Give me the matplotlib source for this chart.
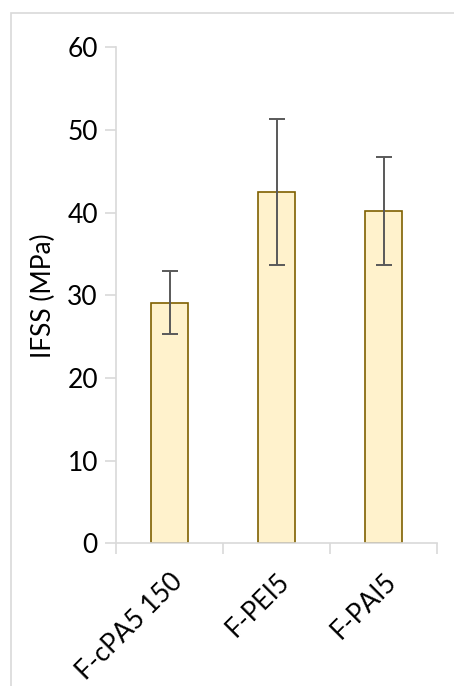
import matplotlib.pyplot as plt
import numpy as np
from matplotlib.patches import Rectangle

amostras = ['F-cPA5 150', 'F-PEI5', 'F-PAI5']
ifss = [29.1, 42.5, 40.2]
erro = [3.8, 8.8, 6.5]
ticks_y = [0, 10, 20, 30, 40, 50, 60]

plt.rcParams['font.family'] = ['Lato', 'DejaVu Sans']

fig = plt.figure(figsize=(4.54, 6.86), dpi=100)
ax = fig.add_axes([116/454, 1 - 543.4/686, 321/454, 496.2/686])

# moldura cinza clara do grafico (so esquerda e topo aparecem)
fig.patches.append(Rectangle((11/454, -0.1), 1.2, 1 - 13/686 + 0.1,
                             transform=fig.transFigure, fill=False,
                             edgecolor='#d9d9d9', linewidth=1.2))

x = np.arange(len(amostras))
ax.bar(x, ifss, width=0.34, color='#fff2cc', edgecolor='#7f6000', linewidth=1.2,
       yerr=erro, error_kw=dict(ecolor='#595959', elinewidth=1.4, capsize=6, capthick=1.4))

ax.set_xlim(-0.5, len(amostras) - 0.5)
ax.set_ylim(0, 60)
ax.set_yticks(ticks_y)
ax.set_xticks(x)
ax.set_xticklabels(amostras, rotation=45, ha='right', rotation_mode='anchor')
ax.set_xticks(np.arange(len(amostras) + 1) - 0.5, minor=True)
ax.tick_params(axis='x', which='major', length=0, pad=18, labelsize=19, colors='#000000')
ax.tick_params(axis='x', which='minor', length=8, color='#d9d9d9', width=1.2)
ax.tick_params(axis='y', length=8, color='#d9d9d9', width=1.2, labelsize=19, pad=5)

for s in ['top', 'right']:
    ax.spines[s].set_visible(False)
for s in ['left', 'bottom']:
    ax.spines[s].set_color('#d9d9d9')
    ax.spines[s].set_linewidth(1.2)

ax.set_ylabel('IFSS (MPa)', fontsize=19, labelpad=8)

fig.savefig('out.png', dpi=100)
